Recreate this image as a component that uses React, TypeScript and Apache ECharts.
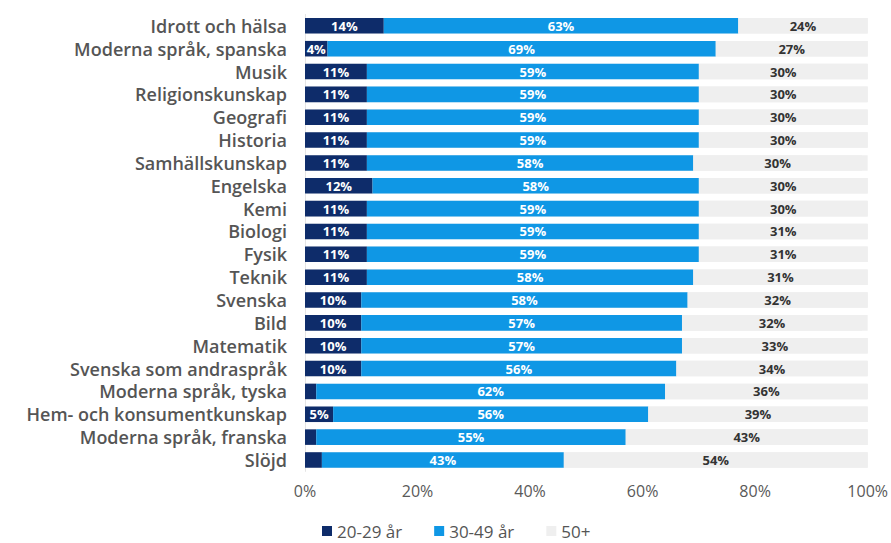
import React, { useEffect, useRef } from "react";
import * as echarts from "echarts";

const categories = [
  "Idrott och hälsa",
  "Moderna språk, spanska",
  "Musik",
  "Religionskunskap",
  "Geografi",
  "Historia",
  "Samhällskunskap",
  "Engelska",
  "Kemi",
  "Biologi",
  "Fysik",
  "Teknik",
  "Svenska",
  "Bild",
  "Matematik",
  "Svenska som andraspråk",
  "Moderna språk, tyska",
  "Hem- och konsumentkunskap",
  "Moderna språk, franska",
  "Slöjd",
];

const age20to29 = [14, 4, 11, 11, 11, 11, 11, 12, 11, 11, 11, 11, 10, 10, 10, 10, 2, 5, 2, 3];
const age30to49 = [63, 69, 59, 59, 59, 59, 58, 58, 59, 59, 59, 58, 58, 57, 57, 56, 62, 56, 55, 43];
const age50plus = [24, 27, 30, 30, 30, 30, 30, 30, 30, 31, 31, 31, 32, 32, 33, 34, 36, 39, 43, 54];

const seriesNames = ["20-29 år", "30-49 år", "50+"];
const xTicks = [0, 20, 40, 60, 80, 100];

const DARK = "#0e2c6a";
const MID = "#0f97e5";
const LIGHT = "#efefef";
const FONT = "'Open Sans', 'DejaVu Sans', sans-serif";

export default function App() {
  const ref = useRef<HTMLDivElement>(null);
  useEffect(() => {
    if (!ref.current) return;
    const chart = echarts.init(ref.current, undefined, { renderer: "svg" });
    const labelFmt = (p: any) => (p.value >= 4 ? `${p.value}%` : "");
    const mkLabel = (color: string) => ({
      show: true,
      position: "inside" as const,
      formatter: labelFmt,
      color,
      fontFamily: FONT,
      fontWeight: 700,
      fontSize: 13,
    });
    chart.setOption({
      animation: false,
      textStyle: { fontFamily: FONT },
      grid: { left: 305, right: 22, top: 14.4, bottom: 71.6, containLabel: false },
      legend: {
        left: 322,
        top: 522,
        padding: 0,
        itemWidth: 10,
        itemHeight: 10,
        itemGap: 32,
        icon: "rect",
        data: seriesNames,
        textStyle: { fontFamily: FONT, fontSize: 17, lineHeight: 18, color: "#555555" },
      },
      xAxis: {
        type: "value",
        min: xTicks[0],
        max: xTicks[xTicks.length - 1],
        interval: 20,
        axisLabel: {
          formatter: (v: number) => `${v}%`,
          fontSize: 16,
          color: "#595959",
          margin: 12,
          fontFamily: FONT,
        },
        splitLine: { show: false },
        axisLine: { show: false },
        axisTick: { show: false },
      },
      yAxis: {
        type: "category",
        data: categories,
        inverse: true,
        axisLine: { show: true, lineStyle: { color: "#e4e4e4", width: 1 } },
        axisTick: { show: false },
        axisLabel: {
          interval: 0,
          fontSize: 18,
          fontWeight: 600,
          color: "#555555",
          margin: 18,
          fontFamily: FONT,
        },
      },
      series: [
        {
          name: seriesNames[0],
          type: "bar",
          stack: "total",
          data: age20to29,
          barCategoryGap: "32%",
          itemStyle: { color: DARK },
          label: mkLabel("#ffffff"),
          showBackground: true,
          backgroundStyle: { color: LIGHT },
        },
        {
          name: seriesNames[1],
          type: "bar",
          stack: "total",
          data: age30to49,
          itemStyle: { color: MID },
          label: mkLabel("#ffffff"),
        },
        {
          name: seriesNames[2],
          type: "bar",
          stack: "total",
          data: age50plus,
          itemStyle: { color: LIGHT },
          label: mkLabel("#333333"),
        },
      ],
    });
    return () => chart.dispose();
  }, []);
  return <div ref={ref} style={{ width: 891, height: 543, position: "absolute", left: 0, top: 0 }} />;
}
